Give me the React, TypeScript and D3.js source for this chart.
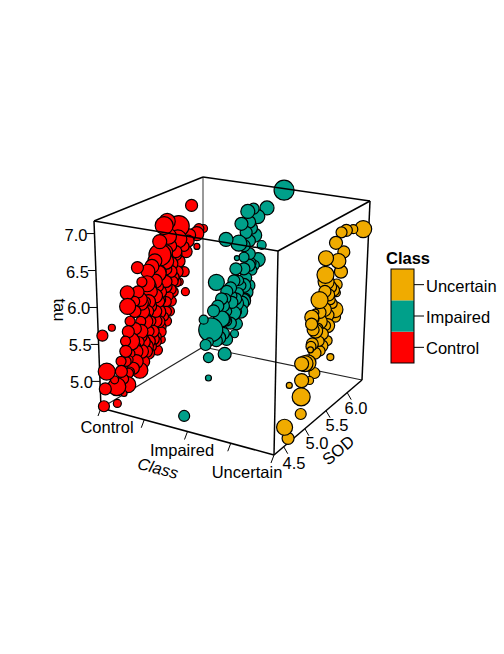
import React from "react";
import * as d3 from "d3";

const classes = ["Control", "Impaired", "Uncertain"];
const classColors = ["#FF0000", "#00A08A", "#F0AB00"];
const sodTicks = [4.5, 5.0, 5.5, 6.0];
const tauTicks = [5.0, 5.5, 6.0, 6.5, 7.0];
const classTicks = [1, 1.5, 2, 2.5, 3];

const controlSOD = [6.17,5.70,5.64,5.92,6.40,6.31,6.27,6.13,5.90,6.27,5.55,5.86,5.11,5.76,6.02,5.51,5.80,5.29,5.66,5.86,6.04,4.90,5.15,4.90,5.17,5.45,5.35,5.66,5.72,5.51,5.25,5.72,5.45,5.04,4.92,5.31,5.55,5.15,5.39,4.94,5.25,5.47,5.15,5.29,4.84,4.98,5.11,4.76,4.45,4.64,4.86,4.41,4.78,4.64,4.37,4.39,4.58,5.35,5.51,5.39,5.66,5.92,5.55,5.76,6.02,5.88,5.55,5.76,5.29,5.15,5.62,5.04,4.90,5.35,5.11,5.55,5.25,5.92,5.45,5.70,5.35,4.94,4.78,4.60,4.88,5.72,6.10,
  5.66,5.86,6.06,5.45,5.66,5.92,5.31,5.55,5.76,5.19,5.45,5.66,5.80,5.11,5.35,5.55,5.80,5.04,5.31,5.51,5.76,5.04,5.19,5.45,5.66,4.94,5.25,5.51,5.66,4.90,5.15,5.39,5.55,4.84,5.19,5.31,5.45,4.84,5.04,5.25,4.74,5.04,5.19,4.74,4.90];
const controlTau = [6.82,6.74,6.70,6.60,6.40,6.43,6.37,6.40,6.42,6.18,6.31,6.21,6.28,6.11,5.90,6.06,5.90,5.99,5.82,5.81,5.60,6.00,5.82,5.81,5.76,5.76,5.65,5.60,5.66,5.51,5.54,5.44,5.40,5.45,5.47,5.31,5.28,5.30,5.17,5.31,5.12,4.98,5.09,5.01,5.07,4.92,4.84,4.99,5.08,4.80,4.74,4.86,4.65,4.57,4.64,5.59,5.63,5.93,5.87,6.20,6.07,6.06,6.50,6.37,6.27,5.95,5.67,5.74,5.60,5.51,5.40,5.20,5.07,5.44,5.24,5.10,5.75,5.79,5.18,6.24,5.08,5.14,4.85,4.91,4.89,6.52,6.32,
  6.32,6.25,6.18,6.26,6.18,6.09,6.16,6.07,6.00,6.05,5.97,5.89,5.84,5.94,5.86,5.78,5.69,5.83,5.73,5.66,5.57,5.69,5.63,5.54,5.46,5.59,5.47,5.37,5.32,5.46,5.37,5.28,5.21,5.35,5.21,5.17,5.11,5.21,5.13,5.05,5.11,4.99,4.93,4.97,4.90];
const controlSize = [6,8,9,10.5,4,5,7,6,9,3,11,6,6,7,5,8,6,8,6,5,4,7,7,8,7,7,6,5,4,7,5,5,6,6,4,5,5,6,6,9,7,5,7,6,5,6,8,3,8.5,9,8,6,3,4,5.5,5.5,3.5,6,5,7,6,5,7,6,5,6,5,5,6,5,4,5,4,5,5,4,5,4,5,5,5,4,5,4,5,8,6,
  7,6,6,7,8,6,7,6,6,5,7,6,5,6,7,6,5,5,7,6,5,6,7,6,5,5,7,6,5,6,7,6,5,5,7,6,5,6,7,6,5,7,6,6,5];

const impairedSOD = [6.34,5.99,5.59,5.71,5.80,5.46,5.74,5.56,5.14,5.41,5.89,5.82,5.63,5.52,5.37,5.35,5.74,4.94,5.56,5.41,5.24,5.59,5.05,5.27,5.46,5.48,5.27,4.97,5.56,5.14,5.05,4.67,4.82,4.99,5.09,5.33,4.71,4.79,5.12,4.77,4.77,4.24,5.16,5.37,5.35,5.41,5.69,5.16,
  5.52,5.63,5.52,5.31,5.63,5.16,5.37,5.09,4.88,5.31,5.09,5.24,5.52,5.46,5.37,4.94,5.16,5.67,5.63,5.52,5.63,5.67];
const impairedTau = [7.17,7.03,7.11,7.11,6.97,6.98,6.73,6.83,6.87,6.73,6.54,6.36,6.51,6.50,6.54,6.40,6.31,6.36,6.20,6.22,6.18,5.99,6.10,6.06,6.13,5.88,5.97,6.03,5.92,6.07,5.83,5.96,5.77,5.60,5.62,5.52,5.61,5.62,5.33,5.42,5.15,4.87,5.89,5.81,5.99,6.05,6.26,5.76,
  6.34,6.35,6.11,6.25,6.07,6.16,5.92,5.99,6.00,5.81,5.81,5.70,5.90,5.78,5.64,5.58,5.51,6.37,6.69,6.66,6.95,6.85];
const impairedSize = [10,7,7,5.5,7,6.5,7,6,7,8,4.5,7,6,5,2.5,6,5,8,6,5,6,6,6,5,5,7,6,6,5,5,8,4.5,12,7,6,4,5.5,4,6.5,5,3,5.5,5,5,6,5,5,5,
  6,6,7,6,6,6,7,6,6,7,7,6,7,7,6,6,6,5,6,6,6,6];

const uncertainSOD = [6.26,6.03,5.87,5.76,5.64,5.83,5.42,5.71,5.78,5.42,5.44,5.69,5.55,5.69,5.30,5.67,5.60,5.21,5.13,5.32,5.51,5.69,5.17,5.39,5.16,5.60,5.12,5.35,5.00,4.92,5.23,5.12,4.93,4.64,4.93,4.93,4.55,4.64,5.13,5.28,5.46,5.55,5.51,5.32,
  5.51,5.62,5.42,5.42,5.51,5.23,5.39,5.23,5.13,5.07,5.32,5.16];
const uncertainTau = [6.82,6.90,6.94,6.95,6.85,6.66,6.72,6.58,6.41,6.50,6.40,6.27,6.29,6.16,6.21,5.94,6.05,6.08,6.05,5.92,5.93,5.83,5.87,5.73,5.69,5.33,5.63,5.52,5.50,5.53,5.28,5.23,5.31,5.37,5.10,4.88,4.88,4.70,5.96,5.85,5.81,6.12,5.59,5.66,
  6.20,6.22,6.28,6.04,5.79,5.83,5.57,5.54,5.67,5.48,6.04,6.02];
const uncertainSize = [8.5,4.5,6,5.5,6.5,6,7.5,7.5,6.5,8.5,8,5.5,6,4,8.5,8,5,3.5,7,7.5,6,5,6,6,6,3.5,3,5,8,7,5.5,4,7,3,9,5.5,8,6,6,5,5,5,5,5,
  6,6,6,7,7,7,6,6,5,8,6,6];

const W = 504, H = 654;
const FONT = "'Liberation Sans', Arial, sans-serif";

const classScale = d3.scaleLinear().domain([1, 3]).range([0, 1]);
const sodScale = d3.scaleLinear().domain([4.31, 6.39]).range([0, 1]);
const sodAxisScale = d3.scaleLinear().domain([4.27, 6.35]).range([0, 1]);
const tauScale = d3.scaleLinear().domain([4.64, 7.17]).range([0, 1]);

// box vertices in screen space, [class end][SOD end][tau end]
const box = [
  [[[101, 408], [94, 221]], [[203, 347], [203, 177]]],
  [[[274, 455], [278, 251]], [[362, 380], [370, 201]]],
];
const lerp = (a: number, b: number, t: number) => a + (b - a) * t;
function project(c: number, s: number, t: number): [number, number] {
  const at = (i: number) =>
    lerp(
      lerp(lerp(box[0][0][0][i], box[0][0][1][i], t), lerp(box[0][1][0][i], box[0][1][1][i], t), s),
      lerp(lerp(box[1][0][0][i], box[1][0][1][i], t), lerp(box[1][1][0][i], box[1][1][1][i], t), s),
      c
    );
  return [at(0), at(1)];
}
const seg = (a: number[], b: number[]) =>
  d3.line()([a as [number, number], b as [number, number]]) as string;

const points = [
  { c: 1, sod: controlSOD, tau: controlTau, size: controlSize },
  { c: 2, sod: impairedSOD, tau: impairedTau, size: impairedSize },
  { c: 3, sod: uncertainSOD, tau: uncertainTau, size: uncertainSize },
].flatMap((g) =>
  g.sod.map((s, i) => ({ c: g.c, sod: s, tau: g.tau[i], r: g.size[i] }))
);
const ordered = d3.sort(points, (a, b) => d3.descending(a.sod, b.sod));

const backEdges = [
  [box[0][1][0], box[0][1][1]],
  [box[0][0][0], box[0][1][0]],
  [box[0][1][0], box[1][1][0]],
];
const sideEdges = [
  [box[0][0][0], box[0][0][1]],
  [box[0][0][0], box[1][0][0]],
  [box[1][0][0], box[1][1][0]],
  [box[1][0][0], box[1][0][1]],
  [box[1][1][0], box[1][1][1]],
];
const topEdges = [
  [box[0][0][1], box[0][1][1]],
  [box[0][1][1], box[1][1][1]],
  [box[1][1][1], box[1][0][1]],
  [box[1][0][1], box[0][0][1]],
];

const sodLabelPos: [number, number][] = [[294, 463], [317, 443], [337, 425], [356, 408]];
const classLabelPos: Record<string, [number, number]> = {
  Control: [107, 427],
  Impaired: [182, 450],
  Uncertain: [247, 472],
};
const legendScale = d3.scaleBand<string>().domain([...classes].reverse()).range([269, 363]);

export default function App() {
  const txt = { fontFamily: FONT, fontSize: 16.5, fill: "#000", dominantBaseline: "central" as const };
  return (
    <svg width={W} height={H} style={{ position: "absolute", left: 0, top: 0 }}>
      <rect width={W} height={H} fill="#fff" />
      {backEdges.map((e, i) => (
        <path key={i} d={seg(e[0], e[1])} stroke={i === 0 ? "#555" : "#222"} strokeWidth={1.2} fill="none" />
      ))}
      {sideEdges.map((e, i) => (
        <path key={i} d={seg(e[0], e[1])} stroke="#000" strokeWidth={1.5} fill="none" />
      ))}

      {tauTicks.map((t) => {
        const [x, y] = project(0, 0, tauScale(t));
        return (
          <g key={t}>
            <path d={seg([x, y], [x - 8, y])} stroke="#000" strokeWidth={1} />
            <text {...txt} x={x - 7} y={y + 1} textAnchor="end">{t.toFixed(1)}</text>
          </g>
        );
      })}
      <text {...txt} transform="translate(60,310) rotate(90)" textAnchor="middle">tau</text>

      {sodTicks.map((s, i) => {
        const [x, y] = project(1, sodAxisScale(s), 0);
        return (
          <g key={s}>
            <path d={seg([x, y], [x + 4, y + 7])} stroke="#000" strokeWidth={1} />
            <text {...txt} x={sodLabelPos[i][0]} y={sodLabelPos[i][1]} textAnchor="middle">{s.toFixed(1)}</text>
          </g>
        );
      })}
      <text {...txt} transform="translate(338,450) rotate(-40)" textAnchor="middle">SOD</text>

      {classTicks.map((c) => {
        const [x, y] = project(classScale(c), 0, 0);
        return <path key={c} d={seg([x, y], [x - 3, y + 8])} stroke="#000" strokeWidth={1} />;
      })}
      {classes.map((c) => (
        <text key={c} {...txt} x={classLabelPos[c][0]} y={classLabelPos[c][1]} textAnchor="middle">{c}</text>
      ))}
      <text {...txt} fontStyle="italic" transform="translate(158,468) rotate(15)" textAnchor="middle">Class</text>

      {ordered.map((p, i) => {
        const [x, y] = project(classScale(p.c), sodScale(p.sod), tauScale(p.tau));
        return <circle key={i} cx={x} cy={y} r={p.r} fill={classColors[p.c - 1]} stroke="#000" strokeWidth={1.2} />;
      })}

      {topEdges.map((e, i) => (
        <path key={i} d={seg(e[0], e[1])} stroke="#000" strokeWidth={1.5} fill="none" />
      ))}

      <text {...txt} x={386} y={258} fontWeight="bold">Class</text>
      {classes.map((c, i) => {
        const y = legendScale(c) as number;
        const b = legendScale.bandwidth();
        return (
          <g key={c}>
            <rect x={391} y={y} width={23} height={b} fill={classColors[i]} />
            <path d={seg([414, y + b / 2], [424, y + b / 2])} stroke="#000" strokeWidth={1} />
            <text {...txt} x={426} y={y + b / 2 + 1}>{c}</text>
          </g>
        );
      })}
      <rect x={391} y={269} width={23} height={94} fill="none" stroke="#000" strokeWidth={1} />
    </svg>
  );
}
